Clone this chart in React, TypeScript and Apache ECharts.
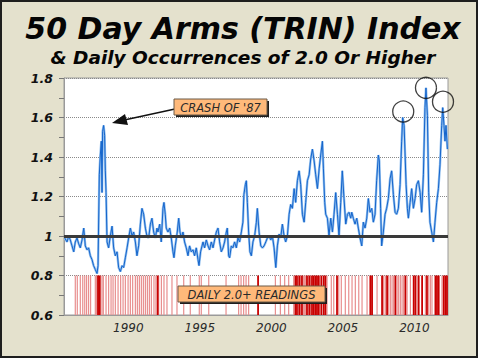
import React, { useEffect, useRef } from "react";
import * as echarts from "echarts";

// 50-day Arms (TRIN) index (decimal year, value)
const dates = [
  1985.55, 1985.71, 1985.83, 1985.94, 1986.06, 1986.18, 1986.29, 1986.41, 1986.53, 1986.64,
  1986.76, 1986.88, 1986.99, 1987.11, 1987.22, 1987.34, 1987.46, 1987.57, 1987.69, 1987.81,
  1987.88, 1987.97, 1988.04, 1988.11, 1988.16, 1988.20, 1988.27, 1988.34, 1988.39, 1988.44,
  1988.51, 1988.62, 1988.74, 1988.86, 1988.97, 1989.09, 1989.21, 1989.32, 1989.44, 1989.56,
  1989.67, 1989.79, 1989.91, 1990.02, 1990.14, 1990.26, 1990.37, 1990.49, 1990.60, 1990.72,
  1990.84, 1990.95, 1991.07, 1991.19, 1991.30, 1991.42, 1991.54, 1991.65, 1991.77, 1991.89,
  1992.00, 1992.07, 1992.19, 1992.30, 1992.42, 1992.49, 1992.58, 1992.65, 1992.77, 1992.89,
  1993.00, 1993.12, 1993.19, 1993.28, 1993.42, 1993.52, 1993.61, 1993.70, 1993.82, 1993.93,
  1994.05, 1994.17, 1994.28, 1994.40, 1994.52, 1994.63, 1994.75, 1994.87, 1994.94, 1995.05,
  1995.22, 1995.33, 1995.45, 1995.57, 1995.68, 1995.80, 1995.92, 1996.03, 1996.15, 1996.27,
  1996.38, 1996.50, 1996.62, 1996.73, 1996.85, 1996.92, 1997.01, 1997.08, 1997.20, 1997.31,
  1997.43, 1997.55, 1997.66, 1997.78, 1997.90, 1998.01, 1998.08, 1998.18, 1998.25, 1998.32,
  1998.41, 1998.50, 1998.60, 1998.71, 1998.83, 1998.95, 1999.02, 1999.14, 1999.26, 1999.37,
  1999.49, 1999.61, 1999.72, 1999.84, 1999.96, 2000.07, 2000.19, 2000.31, 2000.42, 2000.54,
  2000.65, 2000.77, 2000.89, 2001.00, 2001.12, 2001.24, 2001.35, 2001.47, 2001.59, 2001.70,
  2001.82, 2001.94, 2002.05, 2002.17, 2002.29, 2002.40, 2002.52, 2002.64, 2002.75, 2002.87,
  2002.99, 2003.10, 2003.22, 2003.34, 2003.45, 2003.57, 2003.64, 2003.73, 2003.80, 2003.92,
  2004.03, 2004.15, 2004.27, 2004.38, 2004.50, 2004.62, 2004.73, 2004.85, 2004.96, 2005.08,
  2005.20, 2005.32, 2005.43, 2005.55, 2005.62, 2005.73, 2005.85, 2005.97, 2006.08, 2006.20,
  2006.32, 2006.43, 2006.55, 2006.67, 2006.78, 2006.90, 2007.02, 2007.13, 2007.25, 2007.36,
  2007.48, 2007.55, 2007.64, 2007.71, 2007.83, 2007.95, 2008.06, 2008.18, 2008.30, 2008.41,
  2008.53, 2008.65, 2008.76, 2008.88, 2009.00, 2009.11, 2009.18, 2009.28, 2009.35, 2009.42,
  2009.51, 2009.58, 2009.70, 2009.81, 2009.93, 2010.05, 2010.16, 2010.28, 2010.40, 2010.51,
  2010.63, 2010.74, 2010.81, 2010.91, 2011.00, 2011.09, 2011.21, 2011.33, 2011.44, 2011.56,
  2011.68, 2011.79, 2011.91, 2011.98, 2012.07, 2012.14, 2012.21, 2012.31,
];
const trin = [
  0.99, 0.97, 1.00, 0.98, 0.95, 0.92, 0.97, 0.99, 0.96, 0.94,
  0.98, 1.04, 0.95, 0.93, 0.94, 0.90, 0.88, 0.85, 0.83, 0.81,
  0.85, 1.31, 1.41, 1.48, 1.22, 1.53, 1.56, 1.51, 1.33, 1.22,
  0.97, 0.94, 1.00, 1.05, 0.94, 0.90, 0.92, 0.84, 0.82, 0.85,
  0.84, 0.89, 0.94, 0.99, 1.04, 1.00, 1.02, 0.97, 0.90, 0.95,
  1.06, 1.14, 1.11, 1.04, 1.00, 0.99, 1.06, 1.09, 1.02, 0.99,
  1.04, 1.02, 1.06, 0.97, 1.14, 1.17, 1.11, 1.04, 1.02, 1.04,
  0.99, 0.92, 0.89, 0.95, 1.02, 1.09, 1.02, 0.99, 1.02, 0.97,
  0.94, 0.90, 0.95, 0.92, 0.93, 0.90, 0.94, 0.88, 0.85, 0.92,
  0.97, 0.94, 0.98, 0.95, 0.93, 0.97, 0.94, 0.98, 1.02, 1.04,
  0.97, 0.92, 0.94, 0.97, 1.02, 1.04, 0.90, 0.89, 0.95, 0.94,
  0.97, 0.94, 0.99, 0.97, 1.02, 1.07, 1.21, 1.26, 1.28, 1.17,
  1.02, 0.92, 0.90, 0.97, 1.00, 1.07, 1.14, 1.02, 0.95, 0.94,
  0.95, 0.97, 0.99, 1.00, 0.98, 1.00, 0.94, 0.84, 0.95, 1.01,
  0.99, 1.06, 1.00, 0.97, 1.00, 1.11, 1.16, 1.14, 1.24, 1.17,
  1.28, 1.33, 1.26, 1.11, 1.07, 1.17, 1.28, 1.31, 1.39, 1.44,
  1.38, 1.31, 1.24, 1.34, 1.41, 1.48, 1.34, 1.17, 1.11, 1.09,
  1.00, 1.09, 1.02, 1.11, 1.22, 1.11, 1.00, 1.17, 1.33, 1.19,
  1.06, 1.11, 1.12, 1.09, 1.12, 1.09, 1.06, 1.09, 1.04, 0.99,
  0.95, 1.07, 1.04, 1.09, 1.19, 1.12, 1.14, 1.07, 1.11, 1.28,
  1.41, 1.38, 1.14, 0.95, 1.02, 1.11, 1.14, 1.19, 1.29, 1.33,
  1.21, 1.12, 1.11, 1.14, 1.26, 1.48, 1.60, 1.56, 1.41, 1.26,
  1.14, 1.09, 1.17, 1.24, 1.14, 1.19, 1.26, 1.28, 1.22, 1.12,
  1.31, 1.65, 1.75, 1.61, 1.22, 1.07, 1.02, 0.97, 1.07, 1.17,
  1.24, 1.36, 1.56, 1.65, 1.56, 1.48, 1.56, 1.44,
];

// Days with a TRIN reading of 2.0 or higher (decimal year)
const readingsLight = [
  1986.29, 1986.43, 1986.64, 1986.81, 1986.95, 1987.08, 1987.22, 1987.36, 1987.69, 1987.76,
  1987.83, 1987.92, 1988.06, 1988.16, 1988.25, 1988.44, 1988.62, 1988.79, 1988.93, 1989.09,
  1989.28, 1989.46, 1989.63, 1989.79, 1989.98, 1990.14, 1990.30, 1990.49, 1990.63, 1990.77,
  1990.91, 1991.05, 1991.19, 1991.33, 1991.47, 1991.61, 1991.79, 1991.93, 1992.12, 1992.31,
  1992.49, 1992.70, 1993.05, 1993.40, 1993.87, 1994.33, 1994.96, 1995.10, 1995.62, 1996.83,
  1997.71, 1997.88, 1998.06, 1998.23, 1998.41, 2000.28, 2000.63, 2000.93, 2001.21, 2001.56,
  2001.91, 2002.05, 2002.26, 2002.33, 2002.40, 2002.58, 2002.73, 2003.40, 2003.89, 2004.19,
  2004.36, 2004.71, 2004.89, 2005.17, 2005.41, 2005.64, 2005.87, 2006.11, 2006.34, 2006.69,
  2007.39, 2007.85, 2007.97, 2008.20, 2008.32, 2008.44, 2008.55, 2008.79, 2008.90, 2009.02,
  2009.14, 2009.25, 2009.49, 2009.72, 2010.19, 2010.77, 2011.00, 2011.12, 2011.23, 2011.93,
];
const readingsStrong = [
  1987.88, 1987.99, 1992.05, 1999.07, 2001.68, 2001.79, 2001.96, 2002.14, 2002.49, 2002.66,
  2002.84, 2002.96, 2003.08, 2003.19, 2003.31, 2003.50, 2003.66, 2003.78, 2004.59, 2006.92,
  2007.04, 2007.74, 2008.09, 2008.67, 2009.37, 2009.95, 2010.07, 2010.30, 2010.54, 2010.88,
  2011.47, 2011.58, 2011.70, 2012.05, 2012.17, 2012.28,
];

// Peaks circled in the original
const circledPeaks = [
  [2009.22, 1.63],
  [2010.81, 1.75],
  [2012.0, 1.68],
];

const yearLabels = [1990, 1995, 2000, 2005, 2010];
const yMin = 0.6;
const yMax = 1.8;
const readingsTop = 0.8;
const baseline = 1;

const FONT = "DejaVu Sans";

export default function App() {
  const ref = useRef<HTMLDivElement>(null);

  useEffect(() => {
    const chart = echarts.init(ref.current!, null, { renderer: "svg" });
    const lineData = dates.map((d, i) => [d, trin[i]]);

    const bandRender = (w: number, color: string) => (params: any, api: any) => {
      const x = api.value(0);
      const top = api.coord([x, api.value(1)]);
      const bottom = api.coord([x, yMin]);
      return {
        type: "rect",
        shape: { x: top[0] - w / 2, y: top[1], width: w, height: bottom[1] - top[1] },
        style: { fill: color },
      };
    };

    const box = (x: number, y: number, w: number, h: number, label: string) => [
      { type: "rect", shape: { x: x + 2, y: y + 2, width: w, height: h }, style: { fill: "#1e1e1e" }, z: 20 },
      { type: "rect", shape: { x, y, width: w, height: h }, style: { fill: "#ffb97a", stroke: "#6b5a48", lineWidth: 1 }, z: 21 },
      {
        type: "text",
        x: x + w / 2,
        y: y + h / 2 + 0.5,
        style: {
          text: label,
          fill: "#2a2a2a",
          font: `italic 11.5px '${FONT}'`,
          textAlign: "center",
          textVerticalAlign: "middle",
        },
        z: 22,
      },
    ];

    chart.setOption({
      animation: false,
      backgroundColor: "#e4e1cd",
      grid: {
        left: 64,
        top: 78,
        right: 30,
        bottom: 43,
        show: true,
        backgroundColor: "#ffffff",
        borderColor: "#9a9a9a",
        borderWidth: 1,
      },
      xAxis: {
        type: "value",
        min: 1985.5,
        max: 2012.35,
        splitLine: { show: false },
        axisLine: { show: true, lineStyle: { color: "#9a9a9a" } },
        axisTick: { show: false },
        axisLabel: {
          customValues: yearLabels,
          formatter: (v: number) => String(v),
          fontFamily: FONT,
          fontStyle: "italic",
          fontSize: 12,
          color: "#2a2a2a",
          margin: 7,
        },
      },
      yAxis: {
        type: "value",
        min: yMin,
        max: yMax,
        interval: 0.2,
        axisLine: { show: true, lineStyle: { color: "#9a9a9a" } },
        axisTick: { show: true, length: 5, lineStyle: { color: "#777" } },
        minorTick: { show: true, splitNumber: 2, length: 5, lineStyle: { color: "#777" } },
        splitLine: { show: true, lineStyle: { type: "dotted", color: "#8a8a8a", width: 1 } },
        axisLabel: {
          fontFamily: FONT,
          fontStyle: "italic",
          fontWeight: "bold",
          fontSize: 12.5,
          color: "#111",
          margin: 11,
        },
      },
      series: [
        {
          type: "custom",
          name: "2.0+ light",
          data: readingsLight.map((d) => [d, readingsTop]),
          encode: { x: 0, y: 1 },
          renderItem: bandRender(1.2, "#e88e8e"),
          silent: true,
          z: 1,
        },
        {
          type: "custom",
          name: "2.0+ strong",
          data: readingsStrong.map((d) => [d, readingsTop]),
          encode: { x: 0, y: 1 },
          renderItem: bandRender(1.8, "#c80000"),
          silent: true,
          z: 2,
        },
        {
          type: "line",
          name: "TRIN light",
          data: lineData,
          showSymbol: false,
          lineStyle: { color: "#93c0ef", width: 2.4 },
          silent: true,
          z: 3,
        },
        {
          type: "line",
          name: "TRIN",
          data: lineData,
          showSymbol: false,
          lineStyle: { color: "#1565cc", width: 1 },
          silent: true,
          z: 4,
          markLine: {
            silent: true,
            symbol: "none",
            label: { show: false },
            lineStyle: { color: "#3a3a3a", width: 3, type: "solid" },
            data: [{ yAxis: baseline }],
          },
        },
        {
          type: "scatter",
          name: "circled",
          data: circledPeaks,
          symbol: "circle",
          symbolSize: 21,
          itemStyle: { color: "rgba(0,0,0,0)", borderColor: "#111", borderWidth: 1.3 },
          silent: true,
          z: 6,
        },
      ],
      graphic: [
        {
          type: "rect",
          shape: { x: 1, y: 1, width: 476, height: 356 },
          style: { fill: "none", stroke: "#1e1e1e", lineWidth: 2 },
          z: 30,
        },
        {
          type: "text",
          x: 243,
          y: 28,
          style: {
            text: "50 Day Arms (TRIN) Index",
            fill: "#050505",
            font: `italic bold 30px '${FONT}'`,
            textAlign: "center",
            textVerticalAlign: "middle",
          },
        },
        {
          type: "text",
          x: 243,
          y: 57,
          style: {
            text: "& Daily Occurrences of 2.0 Or Higher",
            fill: "#050505",
            font: `italic bold 18.5px '${FONT}'`,
            textAlign: "center",
            textVerticalAlign: "middle",
          },
        },
        {
          type: "line",
          shape: { x1: 175, y1: 109, x2: 122, y2: 120.5 },
          style: { stroke: "#111", lineWidth: 1.5 },
          z: 19,
        },
        {
          type: "polygon",
          shape: { points: [[112, 123], [128, 125], [125, 114]] },
          style: { fill: "#111" },
          z: 19,
        },
        ...box(174, 99, 93, 16, "CRASH OF '87"),
        ...box(178, 286, 147, 16, "DAILY 2.0+ READINGS"),
      ],
    });

    return () => chart.dispose();
  }, []);

  return (
    <div style={{ position: "fixed", left: 0, top: 0, width: 480, height: 360, background: "#fff" }}>
      <div ref={ref} style={{ width: 478, height: 358 }} />
    </div>
  );
}
